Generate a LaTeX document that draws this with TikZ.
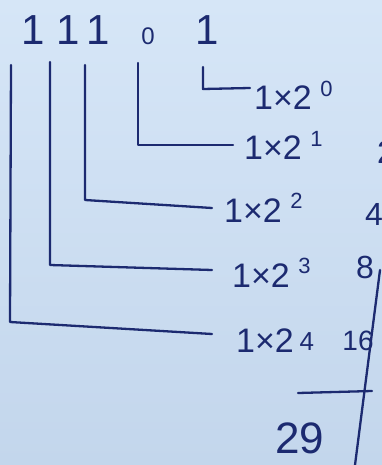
\documentclass[tikz,border=0pt]{standalone}
\usepackage{fontspec}
\setmainfont{Liberation Sans}
\definecolor{ink}{RGB}{28,42,112}
\definecolor{paperlight}{RGB}{214,230,247}
\definecolor{paperdark}{RGB}{195,214,236}
\newcommand{\pw}[1]{\hspace{0.25em}\raisebox{0.4em}{\fontsize{22}{24}\selectfont #1}}

\begin{document}
\begin{tikzpicture}[x=1pt,y=-1pt,
  wire/.style={ink,line width=2.3pt,line join=round,line cap=round},
  bit/.style={ink,inner sep=0,anchor=base,font=\fontsize{42}{46}\selectfont},
  term/.style={ink,inner sep=0,anchor=base west,font=\fontsize{34}{38}\selectfont},
  val/.style={ink,inner sep=0,anchor=base,font=\fontsize{32}{36}\selectfont}]
% Paper
\useasboundingbox (0,0) rectangle (382,465);
\shade[top color=paperlight,bottom color=paperdark] (0,0) rectangle (382,465);

% Binary number
\node[bit] (d4) at (33,45) {1};
\node[bit] (d3) at (68,45) {1};
\node[bit] (d2) at (98,45) {1};
\node[bit,font=\fontsize{24}{26}\selectfont] (d1) at (148,45) {0};
\node[bit] (d0) at (207,45) {1};

% Place values
\node[term] (t0) at (254,110) {1×2\pw{0}};
\node[term] (t1) at (244,160) {1×2\pw{1}};
\node[term] (t2) at (224,222) {1×2\pw{2}};
\node[term] (t3) at (232,287) {1×2\pw{3}};
\node[term] (t4) at (236,352) {1×2\,\raisebox{2pt}{\fontsize{26}{28}\selectfont 4}};

% Lines from each bit
\coordinate (s0) at (203,67);
\coordinate (s1) at (138,63);
\coordinate (s2) at (85,65);
\coordinate (s3) at (50,62);
\coordinate (s4) at (11,65);
\draw[wire] (s0) -- (203,89) -- ([xshift=-4pt,yshift=22pt]t0.base west);
\draw[wire] (s1) -- (138,145) -- ([xshift=-11pt,yshift=15pt]t1.base west);
\draw[wire] (s2) -- (85,200) -- ([xshift=-12pt,yshift=14pt]t2.base west);
\draw[wire] (s3) -- (50,265) -- ([xshift=-20pt,yshift=17pt]t3.base west);
\draw[wire] (s4) -- (10,322) -- ([xshift=-24pt,yshift=18pt]t4.base west);

% Decimal values
\node[val] (v1) at (386,164) {2};
\node[val] (v2) at (374,225) {4};
\node[val] (v3) at (365,278) {8};
\node[val,font=\fontsize{28}{30}\selectfont] (v4) at (358,350) {16};

% Sum
\draw[wire] (380,270) -- (355,465);
\draw[wire] (298,393) -- (372,391);
\node[ink,inner sep=0,anchor=base,font=\fontsize{44}{48}\selectfont] (total) at (300,453) {29};
\end{tikzpicture}
\end{document}
